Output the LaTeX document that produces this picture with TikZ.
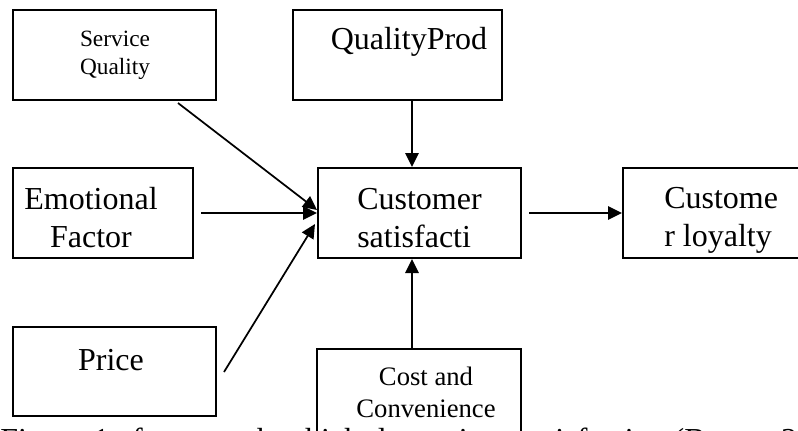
\documentclass[tikz,border=0pt]{standalone}
\usepackage{fontspec}
\setmainfont{Liberation Serif}
\usetikzlibrary{arrows.meta,calc}

\begin{document}
\begin{tikzpicture}[x=0.75pt,y=-0.75pt,
   box/.style={draw,line width=1.5pt,inner sep=0pt,minimum width=152.25pt,minimum height=67.5pt},
   lbl/.style={inner sep=0pt,align=center,font=\fontsize{24}{28.5}\selectfont},
   arr/.style={line width=1.3pt,-{Triangle[length=10.5pt,width=10pt]}}]

   \useasboundingbox (0,0) rectangle (798,430);

   % boxes
   \node[box] (sq) at (114.5,55) {};
   \node[box,minimum width=156.75pt] (qp) at (397.5,55) {};
   \node[box,minimum width=135pt] (ef) at (103,213) {};
   \node[box] (cs) at (419.5,213) {};
   \node[box] (cl) at (724.5,213) {};
   \node[box,minimum height=66.75pt] (pr) at (114.5,371.5) {};
   \node[box,minimum width=153pt] (cc) at (419,394) {};

   % texts
   \node[lbl,anchor=north,font=\fontsize{17.5}{20.5}\selectfont] (sqt) at ($(sq.north)+(0.5,22)$) {Service\\Quality};
   \node[lbl,anchor=north] (qpt) at ($(qp.north)+(11.5,18)$) {QualityProd};
   \node[lbl,anchor=north] (eft) at ($(ef.north)+(-12,20)$) {Emotional\\Factor};
   \node[lbl,anchor=north west,align=left] (cst) at ($(cs.north west)+(40,21)$) {Customer\\satisfacti};
   \node[lbl,anchor=north west,align=left] (clt) at ($(cl.north west)+(42,20)$) {Custome\\r loyalty};
   \node[lbl,anchor=north] (prt) at ($(pr.north)+(-3.5,23)$) {Price};
   \node[lbl,anchor=north,font=\fontsize{20}{24}\selectfont] (cct) at ($(cc.north)+(7,19)$) {Cost and\\Convenience};

   % arrows
   \draw[arr] ($(qp.south)+(14.5,0)$) -- ($(cs.north)+(-7.5,0)$);
   \draw[arr] ($(cc.north)+(-7,0)$) -- ($(cs.south)+(-7.5,0)$);
   \draw[arr] ($(sq.south)+(63.5,2)$) -- ($(cs.west)+(0,-3)$);
   \draw[arr] ($(ef.east)+(7,0)$) -- (cs.west);
   \draw[arr] ($(pr.east)+(7,0.5)$) -- ($(cs.west)+(-2,11)$);
   \draw[arr] ($(cs.east)+(7,0)$) -- (cl.west);

   % caption, cut off at the bottom
   \node[lbl,anchor=base west] (cap) at (0,450) {\makebox[499pt][s]{Figure 1: framework which determines satisfaction}~(Barnes 2003)};

\end{tikzpicture}
\end{document}
